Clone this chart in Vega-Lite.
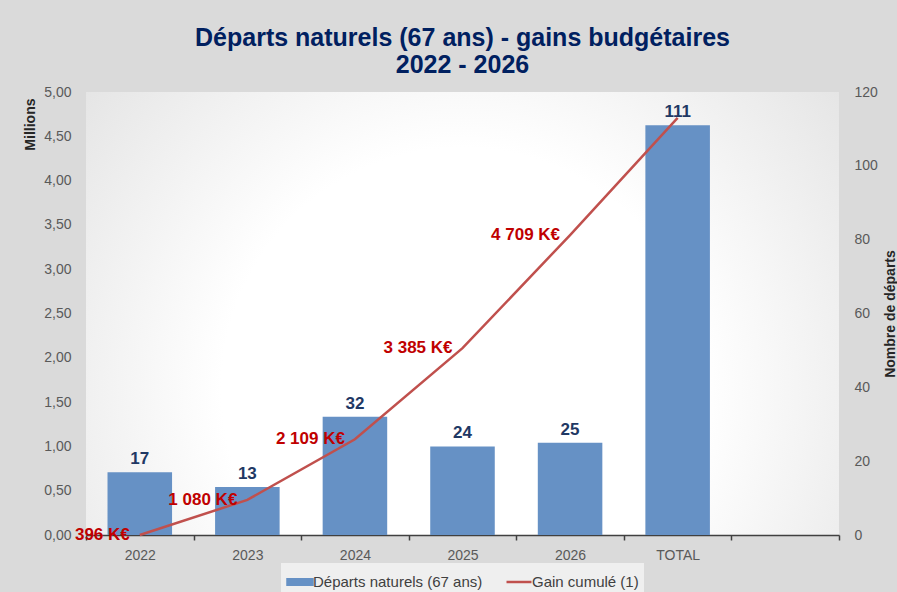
{
  "$schema": "https://vega.github.io/schema/vega-lite/v6.json",
  "width": 753,
  "height": 443,
  "autosize": {"type": "none"},
  "padding": {"left": 86, "top": 92, "right": 58, "bottom": 57},
  "background": "#dadada",
  "view": {
    "stroke": null,
    "fill": {
      "gradient": "radial",
      "x1": 0.5, "y1": 0.6, "r1": 0,
      "x2": 0.5, "y2": 0.6, "r2": 0.8,
      "stops": [
        {"offset": 0, "color": "#ffffff"},
        {"offset": 0.4, "color": "#ffffff"},
        {"offset": 1, "color": "#d8d8d8"}
      ]
    }
  },
  "config": {
    "font": "Liberation Sans",
    "locale": {"number": {"decimal": ",", "thousands": " ", "grouping": [3], "currency": ["", " €"]}}
  },
  "title": {
    "text": ["Départs naturels (67 ans) - gains budgétaires", "2022 - 2026"],
    "fontSize": 25,
    "fontWeight": "bold",
    "color": "#002060",
    "lineHeight": 27,
    "anchor": "middle",
    "offset": 7
  },
  "data": {
    "values": [
      {"cat": "2022", "departs": 17, "gain": 0, "label": "396 K€"},
      {"cat": "2023", "departs": 13, "gain": 0.396, "label": "1 080 K€"},
      {"cat": "2024", "departs": 32, "gain": 1.08, "label": "2 109 K€"},
      {"cat": "2025", "departs": 24, "gain": 2.109, "label": "3 385 K€"},
      {"cat": "2026", "departs": 25, "gain": 3.385, "label": "4 709 K€"},
      {"cat": "TOTAL", "departs": 111, "gain": 4.709, "label": ""}
    ]
  },
  "encoding": {
    "x": {
      "field": "cat",
      "type": "nominal",
      "sort": null,
      "scale": {"domain": ["2022", "2023", "2024", "2025", "2026", "TOTAL", " "], "paddingInner": 0, "paddingOuter": 0},
      "axis": {
        "title": null,
        "labelAngle": 0,
        "labelFontSize": 14,
        "labelColor": "#595959",
        "labelPadding": 8,
        "tickBand": "extent",
        "ticks": true,
        "tickSize": 5,
        "tickColor": "#404040",
        "tickWidth": 1.5,
        "domainColor": "#404040",
        "domainWidth": 1.5,
        "grid": false
      }
    }
  },
  "layer": [
    {
      "encoding": {
        "y": {
          "field": "departs",
          "type": "quantitative",
          "scale": {"domain": [0, 120], "nice": false},
          "axis": {
            "orient": "right",
            "values": [0, 20, 40, 60, 80, 100, 120],
            "title": "Nombre de départs",
            "titleAngle": -90,
            "titleBaseline": "top",
            "titleFontSize": 14,
            "titleFontWeight": "bold",
            "titleColor": "#262626",
            "titlePadding": 6,
            "labelFontSize": 14,
            "labelColor": "#595959",
            "labelPadding": 15,
            "ticks": false,
            "domain": false,
            "grid": false
          }
        }
      },
      "layer": [
        {
          "mark": {"type": "bar", "width": {"band": 0.6}},
          "encoding": {
            "color": {
              "datum": "Départs naturels (67 ans)",
              "scale": {"domain": ["Départs naturels (67 ans)", "Gain cumulé (1)"], "range": ["#6691C5", "#C0504D"]},
              "legend": {
                "orient": "none",
                "legendX": 195,
                "legendY": 471,
                "direction": "horizontal",
                "title": null,
                "fillColor": "#efefef",
                "padding": 5,
                "labelFontSize": 15,
                "labelLimit": 400,
                "labelColor": "#404040",
                "labelOffset": -1,
                "columnPadding": 18,
                "symbolSize": 625,
                "symbolStrokeWidth": 2.5,
                "encode": {
                  "symbols": {
                    "update": {
                      "shape": {"signal": "datum.label === 'Gain cumulé (1)' ? 'stroke' : 'M-1,-0.22H1V0.22H-1Z'"},
                      "fill": {"signal": "datum.label === 'Gain cumulé (1)' ? 'transparent' : scale('color', datum.value)"},
                      "stroke": {"signal": "datum.label === 'Gain cumulé (1)' ? scale('color', datum.value) : 'transparent'"},
                      "strokeWidth": {"value": 2.5},
                      "opacity": {"value": 1}
                    }
                  }
                }
              }
            }
          }
        },
        {
          "mark": {"type": "text", "baseline": "bottom", "dy": -4, "fontSize": 17, "fontWeight": "bold", "color": "#1F3864"},
          "encoding": {"text": {"field": "departs", "type": "quantitative"}}
        }
      ]
    },
    {
      "encoding": {
        "y": {
          "field": "gain",
          "type": "quantitative",
          "scale": {"domain": [0, 5], "nice": false},
          "axis": {
            "orient": "left",
            "values": [0, 0.5, 1, 1.5, 2, 2.5, 3, 3.5, 4, 4.5, 5],
            "format": ".2f",
            "title": "Millions",
            "titleAnchor": "end",
            "titleY": 6,
            "titleFontSize": 14,
            "titleFontWeight": "bold",
            "titleColor": "#262626",
            "titlePadding": 6,
            "labelFontSize": 14,
            "labelColor": "#595959",
            "labelPadding": 15,
            "ticks": false,
            "domain": false,
            "grid": false
          }
        }
      },
      "layer": [
        {
          "mark": {"type": "line", "strokeWidth": 2.5},
          "encoding": {"color": {"datum": "Gain cumulé (1)"}}
        },
        {
          "mark": {"type": "text", "align": "right", "baseline": "middle", "dx": -10, "fontSize": 17, "fontWeight": "bold", "color": "#C00000"},
          "encoding": {"text": {"field": "label", "type": "nominal"}}
        }
      ]
    }
  ],
  "resolve": {"scale": {"y": "independent"}}
}
